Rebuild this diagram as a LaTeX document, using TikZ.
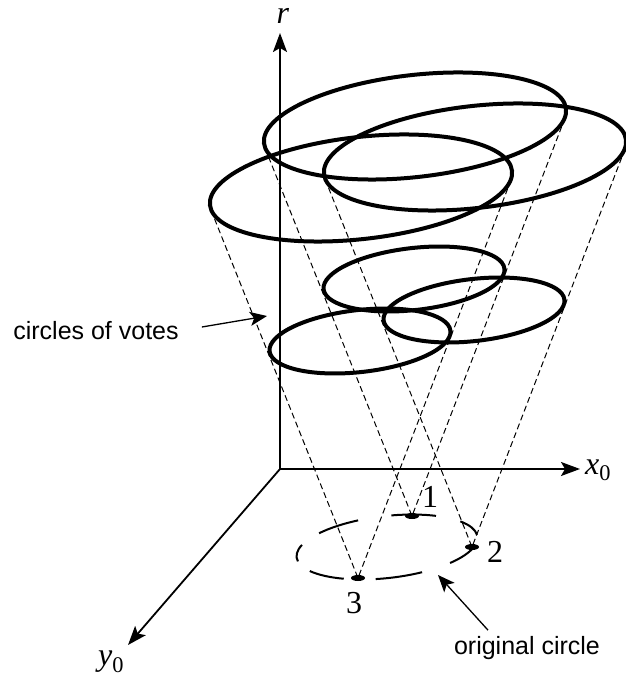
\documentclass[tikz,border=0pt]{standalone}
\usepackage{fontspec}
\setmainfont{Liberation Serif}
\setsansfont{Liberation Sans}
\usetikzlibrary{arrows.meta,calc}
\begin{document}
\begin{tikzpicture}[x=1pt, y=-1pt,
    vote/.style={line width=4pt},
    cone/.style={line width=1pt, dash pattern=on 6pt off 3.5pt},
    axis/.style={line width=1.8pt, -{Stealth[length=19pt, width=14pt, inset=4pt]}},
    pointer/.style={line width=1.3pt, -{Stealth[length=17pt, width=14pt, inset=4pt]}},
    origc/.style={line width=2pt},
    lab/.style={font=\fontsize{32}{34}\selectfont, inner sep=1pt},
    note/.style={font=\sffamily\fontsize{25}{28}\selectfont, inner sep=0pt}
]
\useasboundingbox (0,0) rectangle (625,676);

% axes
\coordinate (O) at (280,469);
\coordinate (rtip) at (280,33);
\coordinate (xtip) at (580,469);
\coordinate (ytip) at (128,645);
\draw[axis] (O) -- (rtip);
\draw[axis] (O) -- (xtip);
\draw[axis] (O) -- (ytip);
\node[lab] (rlab) at (283,16) {\textit{r}};
\node[lab] (xlab) at (598,470) {\textit{x}\textsubscript{0}};
\node[lab] (ylab) at (111,662) {\textit{y}\textsubscript{0}};

% points on the original circle
\coordinate (p1) at (412,516);
\coordinate (p2) at (472,547);
\coordinate (p3) at (358,578);

% cones of votes
\foreach \i in {1,2,3} {
  \coordinate (u\i) at ($(p\i)+(3,-390)$);
  \coordinate (m\i) at ($(p\i)+(2,-237)$);
  \coordinate (ul\i) at ($(u\i)+(-150,22)$);
  \coordinate (ur\i) at ($(u\i)+(150,-8)$);
  \draw[cone] (ul\i) -- (p\i) -- (ur\i);
  \draw[vote, rotate around={6.5:(u\i)}] (u\i) ellipse [x radius=152pt, y radius=51pt];
  \draw[vote, rotate around={6.5:(m\i)}] (m\i) ellipse [x radius=91pt, y radius=31pt];
}

% original circle
\coordinate (oc) at (387,547);
\begin{scope}[shift={(oc)}, rotate=6.5]
  \foreach \s in {3.6,55,106.4,157.8,209.2,260.6,312}
    \draw[origc] (\s:91pt and 31pt) arc [start angle=\s, delta angle=30, x radius=91pt, y radius=31pt];
\end{scope}

\foreach \i in {1,2,3} \fill (p\i) ellipse [x radius=7pt, y radius=3pt];
\node[lab] (n1) at (430,497) {1};
\node[lab] (n2) at (495,552) {2};
\node[lab] (n3) at (354,603) {3};

% labels
\node[note] (votes) at (96,331) {circles of votes};
\coordinate (votes-tip) at (267,316);
\draw[pointer] ([shift={(23,-4)}]votes.east) -- (votes-tip);
\node[note] (orig) at (527,648) {original circle};
\coordinate (orig-tip) at (438,575);
\draw[pointer] ([shift={(-39,-6)}]orig.north) -- (orig-tip);
\end{tikzpicture}
\end{document}
